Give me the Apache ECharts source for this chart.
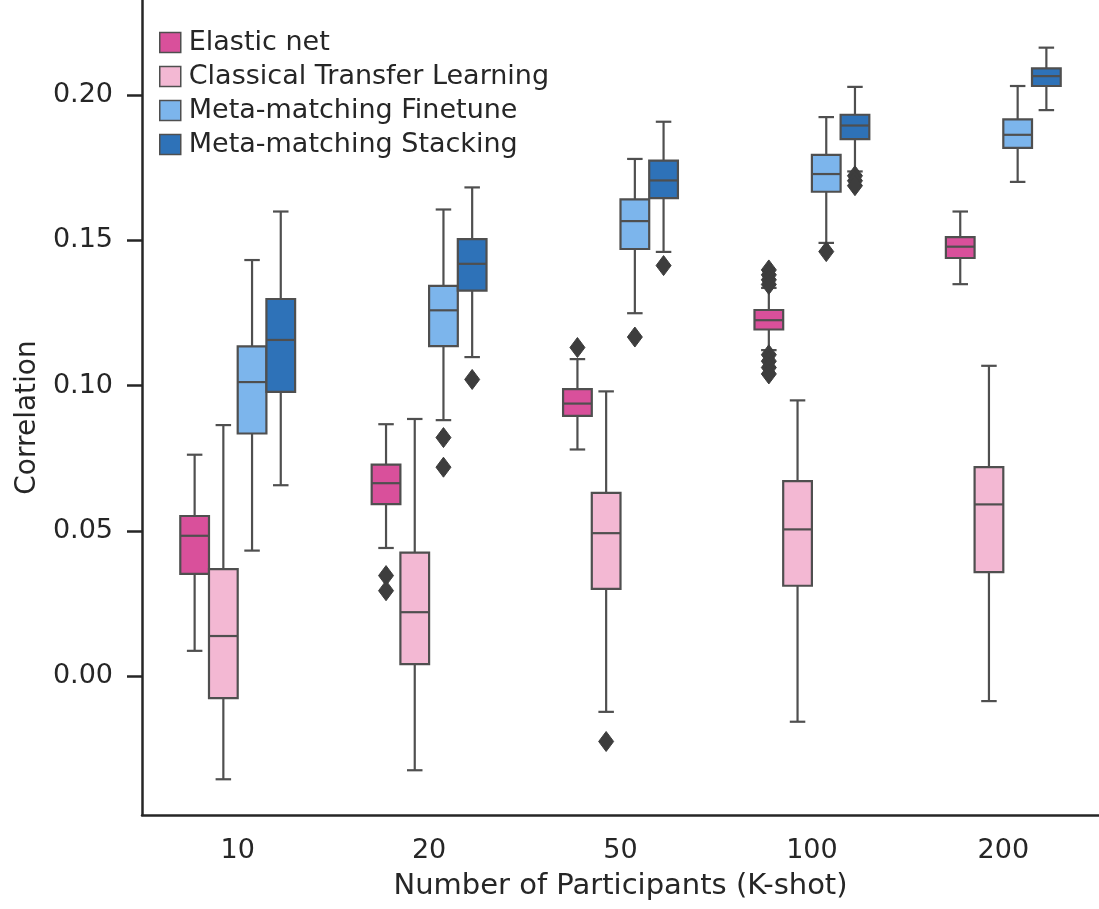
<!DOCTYPE html>
<html>
<head>
<meta charset="utf-8">
<script src="https://cdn.jsdelivr.net/npm/echarts@6/dist/echarts.min.js"></script>
<style>html,body{margin:0;padding:0;background:#fff;}#chart{width:1099px;height:909px;}</style>
</head>
<body>
<div id="chart"></div>
<script>
// ---- data ----
var categories = ['10', '20', '50', '100', '200'];
var methodNames = ['Elastic net', 'Classical Transfer Learning', 'Meta-matching Finetune', 'Meta-matching Stacking'];
var methodColors = ['#d9509b', '#f3b8d3', '#7cb5ec', '#2e72b8'];

// [lower whisker, Q1, median, Q3, upper whisker] per category
var elasticNetStats = [
  [0.0087, 0.0352, 0.0483, 0.0551, 0.0762],
  [0.0441, 0.0592, 0.0664, 0.0728, 0.0867],
  [0.0780, 0.0896, 0.0938, 0.0988, 0.1091],
  [0.1122, 0.1193, 0.1225, 0.1260, 0.1336],
  [0.1349, 0.1439, 0.1478, 0.1511, 0.1599]
];
var classicalTLStats = [
  [-0.0355, -0.0076, 0.0138, 0.0368, 0.0864],
  [-0.0324, 0.0041, 0.0220, 0.0425, 0.0885],
  [-0.0123, 0.0300, 0.0492, 0.0631, 0.0980],
  [-0.0157, 0.0311, 0.0505, 0.0671, 0.0949],
  [-0.0086, 0.0358, 0.0591, 0.0719, 0.1068]
];
var mmFinetuneStats = [
  [0.0432, 0.0835, 0.1012, 0.1135, 0.1432],
  [0.0881, 0.1136, 0.1259, 0.1343, 0.1606],
  [0.1249, 0.1470, 0.1566, 0.1641, 0.1780],
  [0.1491, 0.1667, 0.1728, 0.1794, 0.1924],
  [0.1701, 0.1818, 0.1863, 0.1916, 0.2031]
];
var mmStackingStats = [
  [0.0657, 0.0978, 0.1157, 0.1298, 0.1599],
  [0.1098, 0.1327, 0.1419, 0.1504, 0.1682],
  [0.1460, 0.1645, 0.1706, 0.1774, 0.1908],
  [0.1737, 0.1848, 0.1895, 0.1932, 0.2028],
  [0.1948, 0.2031, 0.2065, 0.2092, 0.2163]
];

// outliers: [category index, value]
var elasticNetOutliers = [[1, 0.0346], [1, 0.0294], [2, 0.1131],
  [3, 0.1398], [3, 0.1381], [3, 0.1364], [3, 0.1348],
  [3, 0.1106], [3, 0.1084], [3, 0.1062], [3, 0.1040]];
var classicalTLOutliers = [[2, -0.0225]];
var mmFinetuneOutliers = [[1, 0.0821], [1, 0.0719], [2, 0.1167], [3, 0.1461]];
var mmStackingOutliers = [[1, 0.1021], [2, 0.1413], [3, 0.1722], [3, 0.1705], [3, 0.1688]];

var yTickValues = [0, 0.05, 0.10, 0.15, 0.20];
var yTickLabels = ['0.00', '0.05', '0.10', '0.15', '0.20'];

var allStats = [elasticNetStats, classicalTLStats, mmFinetuneStats, mmStackingStats];
var allOutliers = [elasticNetOutliers, classicalTLOutliers, mmFinetuneOutliers, mmStackingOutliers];

// ---- drawing ----
var BOX_FRAC = 0.15;
var EDGE = '#4f4f4f';
var TEXT = '#262626';
var FONT = 'DejaVu Sans';

function boxRender(idx) {
  return function (params, api) {
    var cat = api.value(0);
    var band = api.size([1, 0])[0];
    var w = band * BOX_FRAC;
    var cx = api.coord([cat, 0])[0] + (idx - 1.5) * w;
    var yLo = api.coord([cat, api.value(1)])[1];
    var yQ1 = api.coord([cat, api.value(2)])[1];
    var yMed = api.coord([cat, api.value(3)])[1];
    var yQ3 = api.coord([cat, api.value(4)])[1];
    var yHi = api.coord([cat, api.value(5)])[1];
    var lineStyle = { stroke: EDGE, lineWidth: 2.2, fill: null };
    var cap = w * 0.27;
    return {
      type: 'group',
      children: [
        { type: 'line', shape: { x1: cx, y1: yQ3, x2: cx, y2: yHi }, style: lineStyle },
        { type: 'line', shape: { x1: cx, y1: yQ1, x2: cx, y2: yLo }, style: lineStyle },
        { type: 'line', shape: { x1: cx - cap, y1: yHi, x2: cx + cap, y2: yHi }, style: lineStyle },
        { type: 'line', shape: { x1: cx - cap, y1: yLo, x2: cx + cap, y2: yLo }, style: lineStyle },
        { type: 'rect', shape: { x: cx - w / 2, y: yQ3, width: w, height: yQ1 - yQ3 },
          style: { fill: methodColors[idx], stroke: EDGE, lineWidth: 2.2 } },
        { type: 'line', shape: { x1: cx - w / 2, y1: yMed, x2: cx + w / 2, y2: yMed }, style: lineStyle }
      ]
    };
  };
}

function outlierRender(idx) {
  return function (params, api) {
    var cat = api.value(0);
    var band = api.size([1, 0])[0];
    var w = band * BOX_FRAC;
    var p = api.coord([cat, api.value(1)]);
    var cx = p[0] + (idx - 1.5) * w;
    var cy = p[1];
    var hw = 7.5, hh = 10;
    return {
      type: 'polygon',
      shape: { points: [[cx, cy - hh], [cx + hw, cy], [cx, cy + hh], [cx - hw, cy]] },
      style: { fill: '#3d3d3d', stroke: '#3d3d3d', lineWidth: 1 }
    };
  };
}

var series = [];
methodNames.forEach(function (name, i) {
  series.push({
    name: name,
    type: 'custom',
    renderItem: boxRender(i),
    itemStyle: { color: methodColors[i], borderColor: EDGE, borderWidth: 1.5 },
    encode: { x: 0, y: [1, 2, 3, 4, 5] },
    data: allStats[i].map(function (s, c) { return [c].concat(s); }),
    z: 2
  });
});
methodNames.forEach(function (name, i) {
  series.push({
    name: name + ' outliers',
    type: 'custom',
    renderItem: outlierRender(i),
    encode: { x: 0, y: 1 },
    data: allOutliers[i],
    z: 3
  });
});

var chart = echarts.init(document.getElementById('chart'), null, { renderer: 'canvas' });
chart.setOption({
  animation: false,
  backgroundColor: '#fff',
  grid: { left: 142, right: -3, top: 0, bottom: 94 },
  legend: {
    data: methodNames,
    orient: 'vertical',
    left: 154,
    top: 24,
    itemWidth: 21,
    itemHeight: 20,
    itemGap: 7,
    icon: 'rect',
    itemStyle: { borderColor: EDGE, borderWidth: 1.5 },
    textStyle: { fontFamily: FONT, fontSize: 27, color: TEXT, padding: [0, 0, 0, 3] }
  },
  xAxis: {
    type: 'category',
    data: categories,
    axisLine: { onZero: false, lineStyle: { color: TEXT, width: 2.5 } },
    axisTick: { alignWithLabel: true, length: 14, lineStyle: { color: TEXT, width: 2.5 } },
    axisLabel: { fontFamily: FONT, fontSize: 27, color: TEXT, margin: 22 },
    name: 'Number of Participants (K-shot)',
    nameLocation: 'middle',
    nameGap: 57,
    nameTextStyle: { fontFamily: FONT, fontSize: 29, color: TEXT },
    splitLine: { show: false }
  },
  yAxis: {
    type: 'value',
    min: -0.0478,
    max: 0.2327,
    axisLine: { show: true, lineStyle: { color: TEXT, width: 2.5 } },
    axisTick: { show: true, customValues: yTickValues, length: 15, lineStyle: { color: TEXT, width: 2.5 } },
    axisLabel: {
      customValues: yTickValues,
      formatter: function (v) {
        for (var k = 0; k < yTickValues.length; k++) {
          if (Math.abs(v - yTickValues[k]) < 1e-9) return yTickLabels[k];
        }
        return '';
      },
      fontFamily: FONT, fontSize: 27, color: TEXT, margin: 29
    },
    splitLine: { show: false },
    name: 'Correlation',
    nameLocation: 'middle',
    nameGap: 98,
    nameTextStyle: { fontFamily: FONT, fontSize: 28, color: TEXT, padding: [0, 0, 0, -20] }
  },
  series: series
});
</script>
</body>
</html>
